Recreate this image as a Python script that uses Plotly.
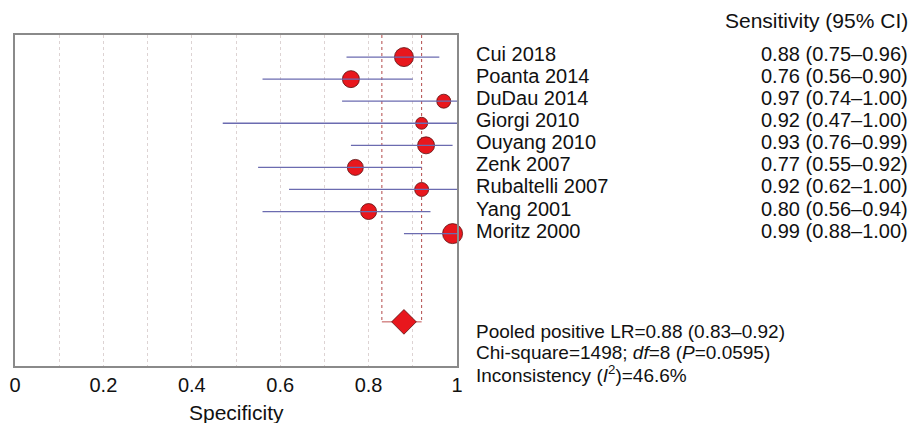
import plotly.graph_objects as go

studies = ["Cui 2018", "Poanta 2014", "DuDau 2014", "Giorgi 2010", "Ouyang 2010",
           "Zenk 2007", "Rubaltelli 2007", "Yang 2001", "Moritz 2000"]
est = [0.88, 0.76, 0.97, 0.92, 0.93, 0.77, 0.92, 0.80, 0.99]
lo = [0.75, 0.56, 0.74, 0.47, 0.76, 0.55, 0.62, 0.56, 0.88]
hi = [0.96, 0.90, 1.00, 1.00, 0.99, 0.92, 1.00, 0.94, 1.00]
weights = [19, 17, 14, 12, 17, 16, 14, 16, 20]  # marker diameter (study weight)

pooled = 0.88
pooled_lo = 0.83
pooled_hi = 0.92
pooled_row = 13

xticks = [0, 0.2, 0.4, 0.6, 0.8, 1]

FONT = "Liberation Sans, Arial, sans-serif"
TXT = 20
rows = list(range(1, len(studies) + 1))

fig = go.Figure()

# pooled CI dashed verticals
for v in (pooled_lo, pooled_hi):
    fig.add_trace(go.Scatter(x=[v, v], y=[0, pooled_row], mode="lines",
                             line=dict(color="#b24a4a", width=1, dash="dot"),
                             hoverinfo="skip", showlegend=False))
fig.add_trace(go.Scatter(x=[pooled_lo, pooled_hi], y=[pooled_row, pooled_row], mode="lines",
                         line=dict(color="#c05050", width=1),
                         hoverinfo="skip", showlegend=False))

# study points
fig.add_trace(go.Scatter(x=est, y=rows, mode="markers", cliponaxis=False,
                         marker=dict(size=weights, color="#e8171d", opacity=1,
                                     line=dict(color="#5a1010", width=0.8)),
                         text=studies, showlegend=False))

# study CIs (drawn over the markers)
cx, cy = [], []
for r, a, b in zip(rows, lo, hi):
    cx += [a, b, None]
    cy += [r, r, None]
fig.add_trace(go.Scatter(x=cx, y=cy, mode="lines",
                         line=dict(color="#6b6bb0", width=1.3),
                         hoverinfo="skip", showlegend=False))

# pooled diamond
fig.add_trace(go.Scatter(x=[pooled], y=[pooled_row], mode="markers", cliponaxis=False,
                         marker=dict(symbol="diamond", size=19, color="#e8171d", opacity=1,
                                     line=dict(color="#5a1010", width=0.8)),
                         showlegend=False))

ann = []
for r, s, e, a, b in zip(rows, studies, est, lo, hi):
    ann.append(dict(x=1.038, y=r, xref="paper", yref="y", text=s, showarrow=False,
                    xanchor="left", yanchor="middle", yshift=3,
                    font=dict(family=FONT, size=TXT, color="#111")))
    ann.append(dict(x=2.025, y=r, xref="paper", yref="y",
                    text=f"{e:.2f} ({a:.2f}\u2013{b:.2f})", showarrow=False,
                    xanchor="right", yanchor="middle", yshift=3,
                    font=dict(family=FONT, size=TXT, color="#111")))
ann.append(dict(x=2.025, y=1.045, xref="paper", yref="paper", text="Sensitivity (95% CI)",
                showarrow=False, xanchor="right", yanchor="middle",
                font=dict(family=FONT, size=21, color="#111")))
ann.append(dict(x=0.5, y=-0.139, xref="paper", yref="paper", text="Specificity",
                showarrow=False, xanchor="center", yanchor="middle",
                font=dict(family=FONT, size=21, color="#111")))
stats = [
    f"Pooled positive LR={pooled:.2f} ({pooled_lo:.2f}\u2013{pooled_hi:.2f})",
    "Chi-square=1498; <i>df</i>=8 (<i>P</i>=0.0595)",
    "Inconsistency (<i>I</i><sup>2</sup>)=46.6%",
]
for yy, t in zip([0.1057, 0.0408, -0.0242], stats):
    ann.append(dict(x=1.038, y=yy, xref="paper", yref="paper", text=t, showarrow=False,
                    xanchor="left", yanchor="middle",
                    font=dict(family=FONT, size=19, color="#111")))

fig.update_layout(
    width=913, height=423,
    margin=dict(l=15, r=456, t=35, b=57, autoexpand=False),
    paper_bgcolor="white", plot_bgcolor="white",
    font=dict(family=FONT, color="#111"),
    annotations=ann,
    xaxis=dict(range=[0, 1], tickvals=xticks, ticktext=[f"{v:g}" for v in xticks],
               automargin=False,
               showgrid=True, gridcolor="#ddd3d3", griddash="dot", gridwidth=1,
               minor=dict(dtick=0.1, showgrid=True, gridcolor="#ddd3d3", griddash="dot"),
               showline=True, linecolor="#8a8a8a", linewidth=2, mirror=True,
               ticks="", tickfont=dict(size=20, color="#111"),
               zeroline=False),
    yaxis=dict(range=[15, 0], showgrid=False, showticklabels=False, ticks="",
               automargin=False,
               showline=True, linecolor="#8a8a8a", linewidth=2, mirror=True,
               zeroline=False),
)

fig.write_html("out.html", config={"displayModeBar": False},
               post_script="document.body.style.margin='0';document.body.style.padding='0';")
